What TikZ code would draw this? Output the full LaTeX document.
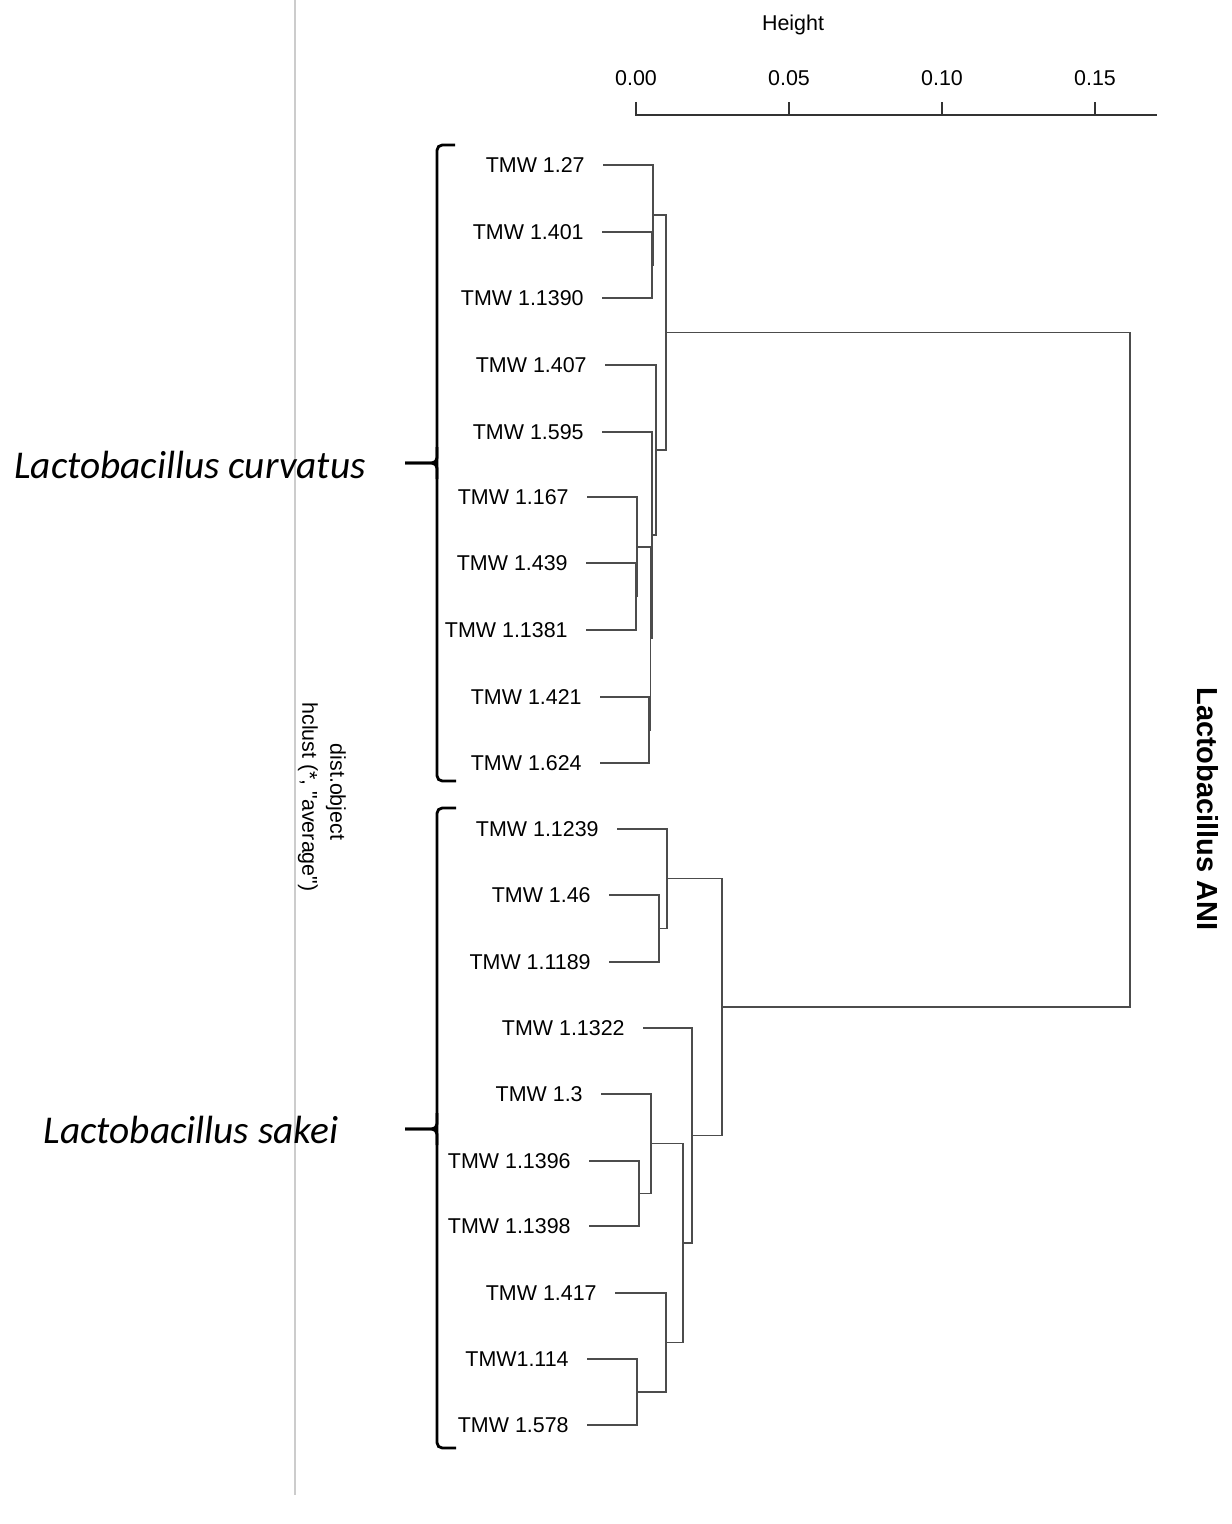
\documentclass[tikz,border=0pt]{standalone}
\usepackage{fontspec}
\setmainfont{Liberation Sans}
\newfontfamily\speciesfont{Carlito}
\usetikzlibrary{positioning}

\begin{document}
\begin{tikzpicture}[x=0.02cm,y=-0.02cm,
  node distance=0.36cm,
  leaf/.style={font=\fontsize{12.2}{14}\selectfont, inner xsep=0pt},
  branch/.style={draw=black!70, line width=0.75pt},
  brace/.style={line width=1.6pt, rounded corners=3pt},
  axislabel/.style={font=\fontsize{12.2}{14}\selectfont},
  species/.style={font=\fontsize{22.4}{26}\selectfont\speciesfont\itshape}]

\useasboundingbox (0,0) rectangle (1231,1524);

% Separator line
\draw[black!20, line width=0.6pt] (295,0) -- (295,1495);

% Height axis
\node[axislabel] (height) at (793,25) {Height};
\node[axislabel] (tk0) at (636,78) {0.00};
\node[axislabel] (tk1) at (789,78) {0.05};
\node[axislabel] (tk2) at (942,78) {0.10};
\node[axislabel] (tk3) at (1095,78) {0.15};
\draw[black!80, line width=0.8pt] (636,102) -- (636,115) -- (1157,115);
\draw[black!80, line width=0.8pt] (789,115) -- (789,102);
\draw[black!80, line width=0.8pt] (942,115) -- (942,102);
\draw[black!80, line width=0.8pt] (1095,115) -- (1095,102);

% Leaf tips, L. curvatus
\coordinate (c1) at (603,165);
\coordinate (c2) at (602,232);
\coordinate (c3) at (602,298);
\coordinate (c4) at (605,365);
\coordinate (c5) at (602,432);
\coordinate (c6) at (587,497);
\coordinate (c7) at (586,563);
\coordinate (c8) at (586,630);
\coordinate (c9) at (600,697);
\coordinate (c10) at (600,763);

\node[leaf, left=of c1] (n1) {TMW 1.27};
\node[leaf, left=of c2] (n2) {TMW 1.401};
\node[leaf, left=of c3] (n3) {TMW 1.1390};
\node[leaf, left=of c4] (n4) {TMW 1.407};
\node[leaf, left=of c5] (n5) {TMW 1.595};
\node[leaf, left=of c6] (n6) {TMW 1.167};
\node[leaf, left=of c7] (n7) {TMW 1.439};
\node[leaf, left=of c8] (n8) {TMW 1.1381};
\node[leaf, left=of c9] (n9) {TMW 1.421};
\node[leaf, left=of c10] (n10) {TMW 1.624};

% Leaf tips, L. sakei
\coordinate (s1) at (617,829);
\coordinate (s2) at (609,895);
\coordinate (s3) at (609,962);
\coordinate (s4) at (643,1028);
\coordinate (s5) at (601,1094);
\coordinate (s6) at (589,1161);
\coordinate (s7) at (589,1226);
\coordinate (s8) at (615,1293);
\coordinate (s9) at (587,1359);
\coordinate (s10) at (587,1425);

\node[leaf, left=of s1] (m1) {TMW 1.1239};
\node[leaf, left=of s2] (m2) {TMW 1.46};
\node[leaf, left=of s3] (m3) {TMW 1.1189};
\node[leaf, left=of s4] (m4) {TMW 1.1322};
\node[leaf, left=of s5] (m5) {TMW 1.3};
\node[leaf, left=of s6] (m6) {TMW 1.1396};
\node[leaf, left=of s7] (m7) {TMW 1.1398};
\node[leaf, left=of s8] (m8) {TMW 1.417};
\node[leaf, left=of s9] (m9) {TMW1.114};
\node[leaf, left=of s10] (m10) {TMW 1.578};

% Merges, L. curvatus
\coordinate (ca) at (652,265);
\coordinate (cb) at (653,215);
\coordinate (cc) at (636,596.5);
\coordinate (cd) at (637,547);
\coordinate (ce) at (649,730);
\coordinate (cf) at (650.5,638.5);
\coordinate (cg) at (652,535);
\coordinate (ch) at (656,450);
\coordinate (ci) at (666,332.5);

\draw[branch] (c2) -| (ca) |- (c3);
\draw[branch] (c1) -| (cb) |- (ca);
\draw[branch] (c7) -| (cc) |- (c8);
\draw[branch] (c6) -| (cd) |- (cc);
\draw[branch] (c9) -| (ce) |- (c10);
\draw[branch] (cd) -| (cf) |- (ce);
\draw[branch] (c5) -| (cg) |- (cf);
\draw[branch] (c4) -| (ch) |- (cg);
\draw[branch] (cb) -| (ci) |- (ch);

% Merges, L. sakei
\coordinate (sa) at (659,928.5);
\coordinate (sb) at (667,878.75);
\coordinate (sc) at (639,1193.5);
\coordinate (sd) at (651,1143.75);
\coordinate (se) at (637,1392);
\coordinate (sf) at (666,1342.5);
\coordinate (sg) at (683,1243);
\coordinate (sh) at (692,1135.5);
\coordinate (si) at (722,1007);

\draw[branch] (s2) -| (sa) |- (s3);
\draw[branch] (s1) -| (sb) |- (sa);
\draw[branch] (s6) -| (sc) |- (s7);
\draw[branch] (s5) -| (sd) |- (sc);
\draw[branch] (s9) -| (se) |- (s10);
\draw[branch] (s8) -| (sf) |- (se);
\draw[branch] (sd) -| (sg) |- (sf);
\draw[branch] (s4) -| (sh) |- (sg);
\draw[branch] (sb) -| (si) |- (sh);

% Root
\coordinate (root) at (1130,670);
\draw[branch] (ci) -| (root) |- (si);

% Species brackets
\draw[brace] (455,145) -- (437,145) -- (437,781) -- (456,781);
\draw[brace] (437,447) |- (405,463);
\draw[brace] (437,479) |- (405,463);
\node[species] (curv) at (190,465) {Lactobacillus curvatus};

\draw[brace] (456,808) -- (437,808) -- (437,1448) -- (456,1448);
\draw[brace] (437,1113) |- (405,1129);
\draw[brace] (437,1145) |- (405,1129);
\node[species] (sakei) at (191,1130) {Lactobacillus sakei};

% Side titles
\node[axislabel, rotate=-90] (sub) at (336,792) {dist.object};
\node[axislabel, rotate=-90] (xlab) at (308,797) {hclust (*, \textquotedbl average\textquotedbl)};
\node[font=\fontsize{16.5}{19}\selectfont\bfseries, rotate=-90] (title) at (1208,809) {Lactobacillus ANI};

\end{tikzpicture}
\end{document}
